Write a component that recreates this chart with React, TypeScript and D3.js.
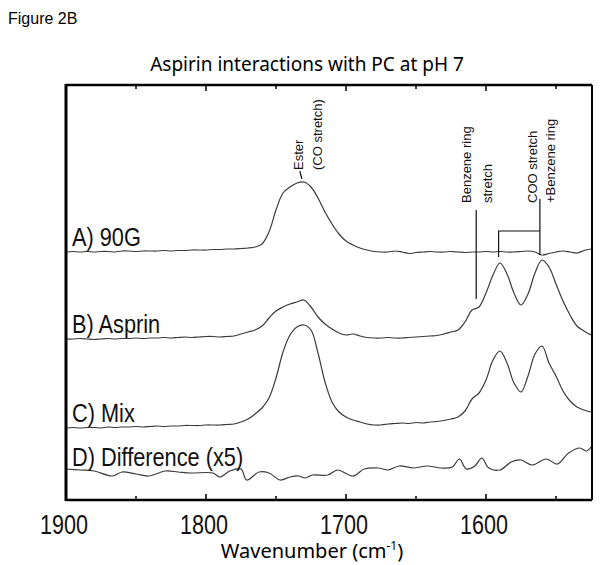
import * as d3 from 'd3'
import { useEffect, useRef } from 'react'

// wavenumber grid (cm-1) shared by the three spectra
const wavenumbers = [
	1900, 1895, 1890, 1885, 1880, 1875, 1870, 1865, 1860, 1855, 1850, 1845, 1840, 1835, 1830, 1825,
	1820, 1815, 1810, 1805, 1800, 1795, 1790, 1785, 1780, 1775, 1770, 1765, 1760, 1755, 1750, 1745,
	1740, 1735, 1730, 1725, 1720, 1715, 1710, 1705, 1700, 1695, 1690, 1685, 1680, 1675, 1670, 1665,
	1660, 1655, 1650, 1645, 1640, 1635, 1630, 1625, 1620, 1615, 1610, 1605, 1600, 1595, 1590, 1585,
	1580, 1575, 1570, 1565, 1560, 1555, 1550, 1545, 1540, 1535, 1530, 1525,
]

// intensities above each trace's own baseline (a.u.)
const ninetyG = [
	0, 0.5, 0, 0.5, 0, 0.5, 0.5, 0, 1, 1, 0.5, 1, 1, 1, 1.5, 1,
	1.5, 1.5, 2, 2, 2, 2.5, 2.5, 3, 3, 3.5, 4, 5, 8, 20, 42, 59,
	65, 69, 70, 65, 54, 40, 28, 18, 11, 7, 4, 2, 0.5, 0, 0, 1,
	0, -1.5, -0.5, 0, 0.5, 0, 0, 0.5, 0, -0.5, 0, 0, 0.5, 0, 0.5, 0,
	0, 0.5, 1, 0, -3, -1.5, 0, 1, 0, -1, 1.5, 3,
]
const asprin = [
	0, 0, 0.5, 0, -0.5, 0, 0.5, 0, 0.5, 0.5, 1, 0.5, 1, 1, 1.5, 1,
	1.5, 2, 1.5, 2, 2.5, 2.5, 2, 2.5, 3, 5, 7, 9, 13, 21, 28, 32,
	35, 37, 39, 32, 22, 15, 10, 6, 4, 5, 3, 1.5, 1, 1, 1.5, 1,
	1, 1.5, 2, 2.5, 3, 3.5, 5, 7, 9, 17, 29, 32, 46, 64, 76, 65,
	46, 34, 45, 66, 79, 72, 55, 38, 24, 13, 8, 4,
]
const mix = [
	0, 0.5, 0, 0.5, 0.5, 0, 1, 0.5, 1, 1, 1.5, 1, 1.5, 2, 1.5, 2,
	2, 2.5, 2.5, 2.5, 3, 3, 3, 3.5, 4, 6, 9, 14, 20, 30, 50, 76,
	93, 101, 103, 98, 75, 46, 26, 16, 11, 8, 6, 4, 3, 3, 4, 4.5,
	5, 4.5, 5.5, 5, 6, 6.5, 7.5, 9, 11, 17, 29, 35, 48, 68, 77, 65,
	45, 36, 52, 74, 82, 65, 52, 37, 27, 21, 18, 16,
]

// difference spectrum (x5), noisier so sampled on its own points
const diffWavenumbers = [
	1900, 1890, 1880, 1867, 1860, 1850, 1841, 1829, 1820, 1811, 1795, 1790, 1783, 1775, 1771, 1762,
	1755, 1747, 1740, 1734, 1729, 1724, 1713, 1706, 1695, 1687, 1677, 1670, 1662, 1652, 1642, 1632,
	1624, 1619, 1614, 1608, 1603, 1598, 1590, 1582, 1575, 1567, 1557, 1549, 1541, 1533, 1528, 1525,
]
const difference = [
	3, 2, 1, -4, 0, -2, -4, 1, 0, -1, -1, -5, 1, 3, -8, 0,
	-1, -8, -5, -4, -6, -3, -3, 2, -4, 3, 4, 2, 6, 4, 6, 4,
	5, 13, 3, 6, 14, 4, 2, 10, 12, 7, 13, 8, 19, 24, 21, 25,
]

const traceSeries = [ninetyG, asprin, mix]
const traceLabels = ['A) 90G', 'B) Asprin', 'C) Mix', 'D) Difference (x5)']
const traceOffsets = [248, 161, 72, 28]

const majorTicks = [1900, 1800, 1700, 1600]
const minorTicks = [1850, 1750, 1650, 1550]

// band annotations: label lines, wavenumber of each text line, start height
const annotations = [
	{ lines: ['Ester', '(CO stretch)'], at: [1730.7, 1717.1], from: 330 },
	{ lines: ['Benzene ring', 'stretch'], at: [1611, 1595.4], from: 297 },
	{ lines: ['COO stretch', '+Benzene ring'], at: [1563.9, 1551], from: 297 },
]
// leader lines: [wavenumber, height] pairs
const leaders = [
	[[1731.5, 321], [1733, 329]],
	[[1607, 201], [1607, 290]],
	[[1591, 243], [1591, 269], [1561.5, 269]],
	[[1561.5, 245], [1561.5, 301]],
]

function App() {
	const svgRef = useRef(null)
	const width = 602
	const height = 565

	useEffect(() => {
		if (!svgRef.current) return
		const svg = d3.select(svgRef.current)
		svg.selectAll('*').remove()

		const left = 66
		const right = 591
		const top = 85
		const bottom = 500

		const x = d3.scaleLinear().domain([1900, 1525]).range([left, right])
		const y = d3.scaleLinear().domain([0, 415]).range([bottom, top])

		svg
			.append('text')
			.attr('x', 8)
			.attr('y', 24)
			.attr('font-family', 'Liberation Sans, Arial, sans-serif')
			.attr('font-size', 16)
			.text('Figure 2B')

		svg
			.append('text')
			.attr('x', 307)
			.attr('y', 71)
			.attr('text-anchor', 'middle')
			.attr('font-family', 'Noto Sans, sans-serif')
			.attr('font-size', 19)
			.text('Aspirin interactions with PC at pH 7')

		const clip = svg.append('clipPath').attr('id', 'plot-clip')
		clip
			.append('rect')
			.attr('x', left)
			.attr('y', top)
			.attr('width', right - left)
			.attr('height', bottom - top)

		const line = d3
			.line()
			.x(d => x(d[0]))
			.y(d => y(d[1]))
			.curve(d3.curveCatmullRom)

		const g = svg.append('g').attr('clip-path', 'url(#plot-clip)')

		traceSeries.forEach((vals, i) => {
			g.append('path')
				.attr('d', line(wavenumbers.map((w, j) => [w, traceOffsets[i] + vals[j]])))
				.attr('fill', 'none')
				.attr('stroke', '#3a3a3a')
				.attr('stroke-width', 1.2)
		})
		g.append('path')
			.attr('d', line(diffWavenumbers.map((w, j) => [w, traceOffsets[3] + difference[j]])))
			.attr('fill', 'none')
			.attr('stroke', '#3a3a3a')
			.attr('stroke-width', 1.2)

		// trace labels
		traceLabels.forEach((label, i) => {
			svg
				.append('text')
				.attr('transform', `translate(${left + 6},${y(traceOffsets[i]) - 6}) scale(0.87,1)`)
				.attr('font-family', 'Liberation Sans, Arial, sans-serif')
				.attr('font-size', 25)
				.attr('fill', '#111')
				.text(label)
		})

		// annotations
		const flat = d3.line().x(d => x(d[0])).y(d => y(d[1]))
		leaders.forEach(pts => {
			svg
				.append('path')
				.attr('d', flat(pts))
				.attr('fill', 'none')
				.attr('stroke', '#111')
				.attr('stroke-width', 1.2)
		})
		annotations.forEach(a => {
			a.lines.forEach((txt, k) => {
				svg
					.append('text')
					.attr('transform', `translate(${x(a.at[k])},${y(a.from)}) rotate(-90)`)
					.attr('font-family', 'Liberation Sans, Arial, sans-serif')
					.attr('font-size', 13)
					.attr('fill', '#111')
					.text(txt)
			})
		})

		// frame
		const frame = svg.append('g').attr('stroke', '#000').attr('fill', 'none')
		frame.append('line').attr('x1', left).attr('x2', left).attr('y1', top - 1).attr('y2', bottom + 1).attr('stroke-width', 3)
		frame.append('line').attr('x1', left).attr('x2', right + 1).attr('y1', top).attr('y2', top).attr('stroke-width', 2.5)
		frame.append('line').attr('x1', left).attr('x2', right + 1).attr('y1', bottom).attr('y2', bottom).attr('stroke-width', 2.5)
		frame.append('line').attr('x1', right + 1).attr('x2', right + 1).attr('y1', top).attr('y2', bottom).attr('stroke-width', 2)

		const ticks = [
			...majorTicks.map(t => [t, 6]),
			...minorTicks.map(t => [t, 4]),
		]
		ticks.forEach(([t, len]) => {
			if (t === 1900) return
			frame.append('line').attr('x1', x(t)).attr('x2', x(t)).attr('y1', bottom).attr('y2', bottom - len).attr('stroke-width', 1.5)
			frame.append('line').attr('x1', x(t)).attr('x2', x(t)).attr('y1', top).attr('y2', top + len).attr('stroke-width', 1.5)
		})

		majorTicks.forEach(t => {
			svg
				.append('text')
				.attr('transform', `translate(${x(t) - 2},534) scale(0.77,1)`)
				.attr('text-anchor', 'middle')
				.attr('font-family', 'Liberation Sans, Arial, sans-serif')
				.attr('font-size', 28)
				.attr('fill', '#111')
				.text(t)
		})

		const xt = svg
			.append('text')
			.attr('x', 312)
			.attr('y', 558)
			.attr('text-anchor', 'middle')
			.attr('font-family', 'Noto Sans, sans-serif')
			.attr('font-size', 20)
		xt.append('tspan').text('Wavenumber (cm')
		xt.append('tspan').attr('font-size', 12).attr('dy', -8).text('-1')
		xt.append('tspan').attr('dy', 8).text(')')
	}, [])

	return (
		<svg
			ref={svgRef}
			width={width}
			height={height}
			style={{ position: 'absolute', left: 0, top: 0, background: '#fff' }}
		/>
	)
}

export default App
